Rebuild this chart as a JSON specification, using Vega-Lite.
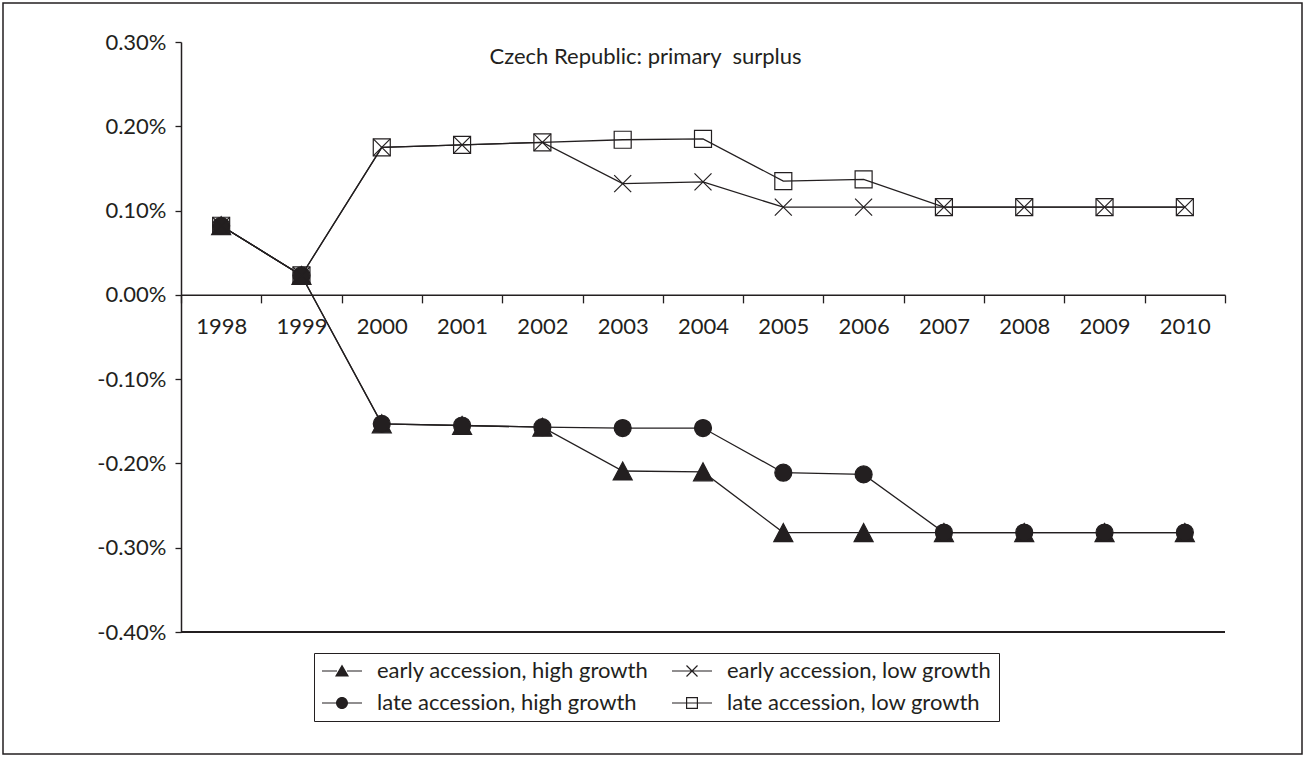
{
  "$schema": "https://vega.github.io/schema/vega-lite/v6.json",
  "width": 1299,
  "height": 751,
  "autosize": {"type": "none"},
  "padding": 3,
  "background": "white",
  "config": {
    "font": "Lato",
    "view": {"stroke": "#231f20", "strokeWidth": 1.5},
    "axis": {"grid": false, "domainColor": "#231f20", "tickColor": "#231f20", "labelColor": "#231f20", "labelFont": "Lato", "labelFontSize": 22, "domainWidth": 1.5, "tickWidth": 1.3, "title": null}
  },
  "title": {"text": "Czech Republic: primary\u00a0 surplus", "orient": "top", "anchor": "middle", "frame": "group", "offset": -66, "fontSize": 22, "fontWeight": "normal", "font": "Lato", "color": "#231f20", "dx": -7},
  "data": {
    "values": [
      {"year": "1998", "series": "early accession, high growth", "value": 0.00082},
      {"year": "1999", "series": "early accession, high growth", "value": 0.00023},
      {"year": "2000", "series": "early accession, high growth", "value": -0.00153},
      {"year": "2001", "series": "early accession, high growth", "value": -0.00155},
      {"year": "2002", "series": "early accession, high growth", "value": -0.00157},
      {"year": "2003", "series": "early accession, high growth", "value": -0.00209},
      {"year": "2004", "series": "early accession, high growth", "value": -0.0021},
      {"year": "2005", "series": "early accession, high growth", "value": -0.00282},
      {"year": "2006", "series": "early accession, high growth", "value": -0.00282},
      {"year": "2007", "series": "early accession, high growth", "value": -0.00282},
      {"year": "2008", "series": "early accession, high growth", "value": -0.00282},
      {"year": "2009", "series": "early accession, high growth", "value": -0.00282},
      {"year": "2010", "series": "early accession, high growth", "value": -0.00282},
      {"year": "1998", "series": "late accession, high growth", "value": 0.00082},
      {"year": "1999", "series": "late accession, high growth", "value": 0.00023},
      {"year": "2000", "series": "late accession, high growth", "value": -0.00153},
      {"year": "2001", "series": "late accession, high growth", "value": -0.00155},
      {"year": "2002", "series": "late accession, high growth", "value": -0.00157},
      {"year": "2003", "series": "late accession, high growth", "value": -0.00158},
      {"year": "2004", "series": "late accession, high growth", "value": -0.00158},
      {"year": "2005", "series": "late accession, high growth", "value": -0.00211},
      {"year": "2006", "series": "late accession, high growth", "value": -0.00213},
      {"year": "2007", "series": "late accession, high growth", "value": -0.00282},
      {"year": "2008", "series": "late accession, high growth", "value": -0.00282},
      {"year": "2009", "series": "late accession, high growth", "value": -0.00282},
      {"year": "2010", "series": "late accession, high growth", "value": -0.00282},
      {"year": "1998", "series": "early accession, low growth", "value": 0.00082},
      {"year": "1999", "series": "early accession, low growth", "value": 0.00023},
      {"year": "2000", "series": "early accession, low growth", "value": 0.00175},
      {"year": "2001", "series": "early accession, low growth", "value": 0.00178},
      {"year": "2002", "series": "early accession, low growth", "value": 0.00181},
      {"year": "2003", "series": "early accession, low growth", "value": 0.00132},
      {"year": "2004", "series": "early accession, low growth", "value": 0.00134},
      {"year": "2005", "series": "early accession, low growth", "value": 0.00104},
      {"year": "2006", "series": "early accession, low growth", "value": 0.00104},
      {"year": "2007", "series": "early accession, low growth", "value": 0.00104},
      {"year": "2008", "series": "early accession, low growth", "value": 0.00104},
      {"year": "2009", "series": "early accession, low growth", "value": 0.00104},
      {"year": "2010", "series": "early accession, low growth", "value": 0.00104},
      {"year": "1998", "series": "late accession, low growth", "value": 0.00082},
      {"year": "1999", "series": "late accession, low growth", "value": 0.00023},
      {"year": "2000", "series": "late accession, low growth", "value": 0.00175},
      {"year": "2001", "series": "late accession, low growth", "value": 0.00178},
      {"year": "2002", "series": "late accession, low growth", "value": 0.00181},
      {"year": "2003", "series": "late accession, low growth", "value": 0.00184},
      {"year": "2004", "series": "late accession, low growth", "value": 0.00185},
      {"year": "2005", "series": "late accession, low growth", "value": 0.00135},
      {"year": "2006", "series": "late accession, low growth", "value": 0.00137},
      {"year": "2007", "series": "late accession, low growth", "value": 0.00104},
      {"year": "2008", "series": "late accession, low growth", "value": 0.00104},
      {"year": "2009", "series": "late accession, low growth", "value": 0.00104},
      {"year": "2010", "series": "late accession, low growth", "value": 0.00104}
    ]
  },
  "layer": [
    {
      "mark": {"type": "rule", "color": "#231f20", "strokeWidth": 2},
      "encoding": {
        "x": {"datum": "1998", "type": "ordinal", "bandPosition": 0},
        "x2": {"datum": "2010", "bandPosition": 1},
        "y": {"datum": -0.004, "type": "quantitative"}
      }
    },
    {
      "mark": {"type": "line", "color": "#231f20", "strokeWidth": 1.3},
      "encoding": {
        "x": {
          "field": "year", "type": "ordinal",
          "scale": {"type": "band", "range": [178, 1222], "paddingInner": 0, "paddingOuter": 0},
          "axis": {"orient": "bottom", "offset": {"expr": "scale('y', 0) - height"}, "tickBand": "extent", "bandPosition": 0.5, "tickSize": 8, "labelPadding": 14, "labelAngle": 0, "labelAlign": "center", "labelBaseline": "top"}
        },
        "y": {
          "field": "value", "type": "quantitative",
          "scale": {"domain": [-0.004, 0.003], "range": [629, 39], "nice": false, "zero": false},
          "axis": {"orient": "left", "offset": -178, "format": ".2%", "labelExpr": "replace(format(datum.value, '.2%'), '\u2212', '-')", "values": [-0.004, -0.003, -0.002, -0.001, 0, 0.001, 0.002, 0.003], "tickSize": 6, "labelPadding": 9}
        },
        "detail": {"field": "series"}
      }
    },
    {
      "mark": {"type": "point", "filled": true, "stroke": "#231f20", "strokeWidth": 1.2, "size": 289, "opacity": 1},
      "encoding": {
        "x": {"field": "year", "type": "ordinal"},
        "y": {"field": "value", "type": "quantitative"},
        "shape": {
          "field": "series", "type": "nominal",
          "scale": {
            "domain": ["early accession, high growth", "early accession, low growth", "late accession, high growth", "late accession, low growth"],
            "range": ["M0,-1.06L1.12,1.06L-1.12,1.06Z", "M-1,-1L1,1M-1,1L1,-1", "circle", "square"]
          },
          "legend": null
        },
        "fill": {
          "field": "series", "type": "nominal",
          "scale": {
            "domain": ["early accession, high growth", "early accession, low growth", "late accession, high growth", "late accession, low growth"],
            "range": ["#231f20", "transparent", "#231f20", "transparent"]
          },
          "legend": null
        }
      }
    },
    {
      "mark": {"type": "point", "filled": true, "color": "#231f20", "opacity": 0, "size": 400},
      "encoding": {
        "x": {"field": "year", "type": "ordinal"},
        "y": {"field": "value", "type": "quantitative"},
        "shape": {
          "field": "series", "type": "nominal",
          "scale": {
            "domain": ["early accession, high growth", "late accession, high growth", "early accession, low growth", "late accession, low growth"],
            "range": [
              "M-2,-0.06H-0.5V0.06H-2ZM0.5,-0.06H2V0.06H0.5ZM0,-0.65L0.7,0.55L-0.7,0.55Z",
              "M-2,-0.06H-0.5V0.06H-2ZM0.5,-0.06H2V0.06H0.5ZM0.6,0A0.6,0.6,0,1,1,-0.6,0A0.6,0.6,0,1,1,0.6,0Z",
              "M-2,-0.06H2V0.06H-2ZM-0.508,-0.592L0.592,0.508L0.508,0.592L-0.592,-0.508ZM-0.592,0.508L0.508,-0.592L0.592,-0.508L-0.508,0.592Z",
              "M-2,-0.06H2V0.06H-2ZM-0.6,-0.6H0.6V0.6H-0.6ZM-0.48,-0.48V0.48H0.48V-0.48Z"
            ]
          },
          "legend": {
            "title": null,
            "orient": "none",
            "legendX": 311,
            "legendY": 650,
            "columns": 2,
            "strokeColor": "#231f20",
            "padding": 7,
            "rowPadding": 10,
            "columnPadding": 22,
            "labelFont": "Lato",
            "labelFontSize": 22,
            "labelColor": "#231f20",
            "labelLimit": 400,
            "labelOffset": 24,
            "symbolOffset": 10,
            "symbolSize": 400,
            "symbolOpacity": 1,
            "symbolFillColor": "#231f20",
            "symbolStrokeWidth": 0
          }
        }
      }
    }
  ],
  "resolve": {"scale": {"shape": "independent"}, "legend": {"shape": "independent"}}
}
